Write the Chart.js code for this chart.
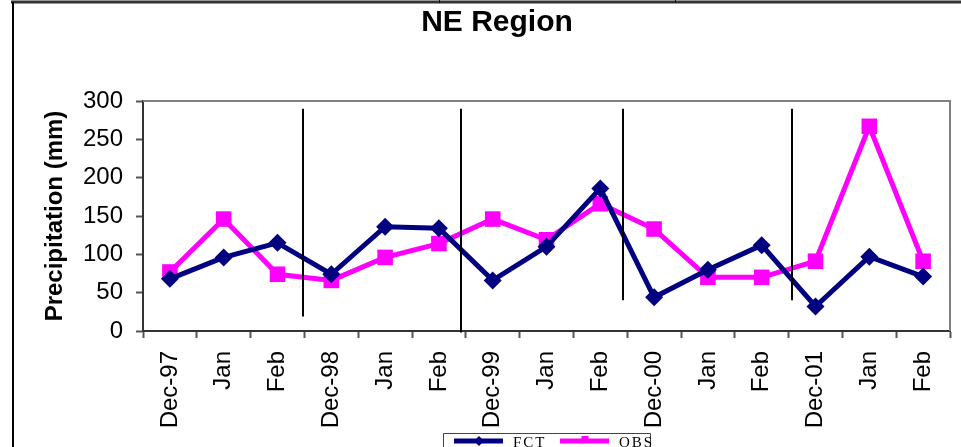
<!DOCTYPE html>
<html>
<head>
<meta charset="utf-8">
<script src="https://cdn.jsdelivr.net/npm/chart.js@4.4.1/dist/chart.umd.min.js"></script>
<style>
  html, body { margin: 0; padding: 0; background: #fff; }
  #wrap { width: 961px; height: 447px; position: relative; overflow: hidden; }
</style>
</head>
<body>
<div id="wrap"><canvas id="c" width="961" height="447"></canvas></div>
<script>
const categories = ['Dec-97','Jan','Feb','Dec-98','Jan','Feb','Dec-99','Jan','Feb','Dec-00','Jan','Feb','Dec-01','Jan','Feb'];
const fctValues = [68, 96, 115, 74, 136, 134, 66, 110, 186, 44, 80, 112, 32, 97, 71];
const obsValues = [77, 146, 74, 66, 96, 114, 146, 119, 166, 133, 70, 70, 91, 267, 91];
const yTickValues = [0, 50, 100, 150, 200, 250, 300];
const chartTitle = 'NE Region';
// season divider lines: category position and value extent
const dividerAt = [2.48, 5.42, 8.42, 11.57];
const dividerFrom = [19, -2, 40, 40];
const dividerTo = [290, 290, 290, 290];

const SANS = '"Liberation Sans", Arial, Helvetica, sans-serif';
const SERIF = '"Liberation Serif", "Times New Roman", "DejaVu Serif", serif';

const framePlugin = {
  id: 'frame',
  afterDatasetsDraw(chart) {
    const {ctx, scales: {x, y}} = chart;
    ctx.save();
    ctx.strokeStyle = '#000';
    ctx.lineWidth = 2;
    for (let i = 0; i < dividerAt.length; i++) {
      const px = Math.round(x.getPixelForValue(dividerAt[i]));
      ctx.beginPath();
      ctx.moveTo(px, y.getPixelForValue(dividerTo[i]));
      ctx.lineTo(px, y.getPixelForValue(dividerFrom[i]));
      ctx.stroke();
    }
    ctx.restore();
  },
  afterDraw(chart) {
    const {ctx, chartArea: a} = chart;
    ctx.save();
    // title
    ctx.fillStyle = '#000';
    ctx.font = 'bold 30px ' + SANS;
    ctx.textAlign = 'center';
    ctx.textBaseline = 'alphabetic';
    ctx.fillText(chartTitle, 497, 31);
    // plot area top/right border
    ctx.strokeStyle = '#808080';
    ctx.lineWidth = 2;
    ctx.beginPath();
    ctx.moveTo(a.left, a.top);
    ctx.lineTo(a.right, a.top);
    ctx.lineTo(a.right, a.bottom);
    ctx.stroke();
    // outer page frame
    ctx.strokeStyle = '#333';
    ctx.lineWidth = 3;
    ctx.beginPath();
    ctx.moveTo(11, 2);
    ctx.lineTo(961, 2);
    ctx.stroke();
    ctx.strokeStyle = '#000';
    ctx.lineWidth = 2;
    ctx.beginPath();
    ctx.moveTo(13, 2);
    ctx.lineTo(13, 447);
    ctx.stroke();
    ctx.lineWidth = 1;
    ctx.beginPath();
    ctx.moveTo(439.5, 0); ctx.lineTo(439.5, 3);
    ctx.moveTo(675.5, 0); ctx.lineTo(675.5, 3);
    ctx.stroke();

    // legend
    const bx = 443.5, by = 433.5, bw = 207;
    ctx.strokeStyle = '#444';
    ctx.lineWidth = 1;
    ctx.beginPath();
    ctx.moveTo(bx, 447);
    ctx.lineTo(bx, by);
    ctx.lineTo(bx + bw, by);
    ctx.lineTo(bx + bw, 447);
    ctx.stroke();
    const starts = [454, 560];
    const ly = 441;
    chart.data.datasets.forEach((ds, i) => {
      const sx = starts[i];
      ctx.strokeStyle = ds.borderColor;
      ctx.lineWidth = 5;
      ctx.beginPath();
      ctx.moveTo(sx, ly);
      ctx.lineTo(sx + 49, ly);
      ctx.stroke();
      ctx.fillStyle = ds.borderColor;
      const cx = sx + 25;
      ctx.beginPath();
      if (ds.pointStyle === 'rectRot') {
        const r = 5;
        ctx.moveTo(cx, ly - r); ctx.lineTo(cx + r, ly); ctx.lineTo(cx, ly + r); ctx.lineTo(cx - r, ly);
        ctx.closePath();
      } else {
        ctx.rect(cx - 3.5, ly - 5, 7, 7);
      }
      ctx.fill();
      ctx.fillStyle = '#000';
      ctx.font = '15px ' + SERIF;
      ctx.letterSpacing = '2px';
      ctx.textBaseline = 'alphabetic';
      ctx.textAlign = 'left';
      ctx.fillText(ds.label, sx + 59, 447);
    });
    ctx.restore();
  }
};

const ctx = document.getElementById('c').getContext('2d');
new Chart(ctx, {
  type: 'line',
  data: {
    labels: categories,
    datasets: [
      {
        label: 'FCT',
        data: fctValues,
        borderColor: '#000080',
        backgroundColor: '#000080',
        borderWidth: 5,
        pointStyle: 'rectRot',
        pointRadius: 9,
        pointHoverRadius: 9,
        pointBorderWidth: 0,
        tension: 0,
        fill: false
      },
      {
        label: 'OBS',
        data: obsValues,
        borderColor: '#FF00FF',
        backgroundColor: '#FF00FF',
        borderWidth: 5,
        pointStyle: 'rect',
        pointRadius: 11,
        pointHoverRadius: 11,
        pointBorderWidth: 0,
        tension: 0,
        fill: false
      }
    ]
  },
  options: {
    responsive: false,
    animation: false,
    devicePixelRatio: 1,
    layout: { padding: { left: 0, right: 3, top: 101, bottom: 0 } },
    plugins: {
      legend: { display: false },
      tooltip: { enabled: false },
      title: { display: false }
    },
    scales: {
      x: {
        type: 'category',
        offset: true,
        grid: {
          display: true,
          offset: true,
          drawOnChartArea: false,
          drawTicks: true,
          tickLength: 7,
          tickWidth: 2,
          tickColor: '#555'
        },
        border: { display: true, color: '#333', width: 2 },
        ticks: {
          autoSkip: false,
          minRotation: 90,
          maxRotation: 90,
          padding: 13,
          color: '#000',
          font: { family: SANS, size: 24 }
        },
        afterFit(scale) {
          scale.height = 116;
          scale.paddingLeft = 0;
          scale.paddingRight = 0;
        }
      },
      y: {
        type: 'linear',
        min: 0,
        max: 300,
        afterBuildTicks(scale) {
          scale.ticks = yTickValues.map(v => ({ value: v }));
        },
        grid: {
          display: true,
          drawOnChartArea: false,
          drawTicks: true,
          tickLength: 7,
          tickWidth: 2,
          tickColor: '#555'
        },
        border: { display: true, color: '#333', width: 2 },
        ticks: {
          padding: 13,
          color: '#000',
          font: { family: SANS, size: 24 }
        },
        title: {
          display: true,
          text: 'Precipitation (mm)',
          color: '#000',
          font: { family: SANS, size: 24, weight: 'bold', lineHeight: 1.2 },
          padding: { top: 41, bottom: 0 }
        },
        afterFit(scale) {
          scale.width = 143;
          scale.paddingTop = 0;
          scale.paddingBottom = 0;
        }
      }
    }
  },
  plugins: [framePlugin]
});
</script>
</body>
</html>
